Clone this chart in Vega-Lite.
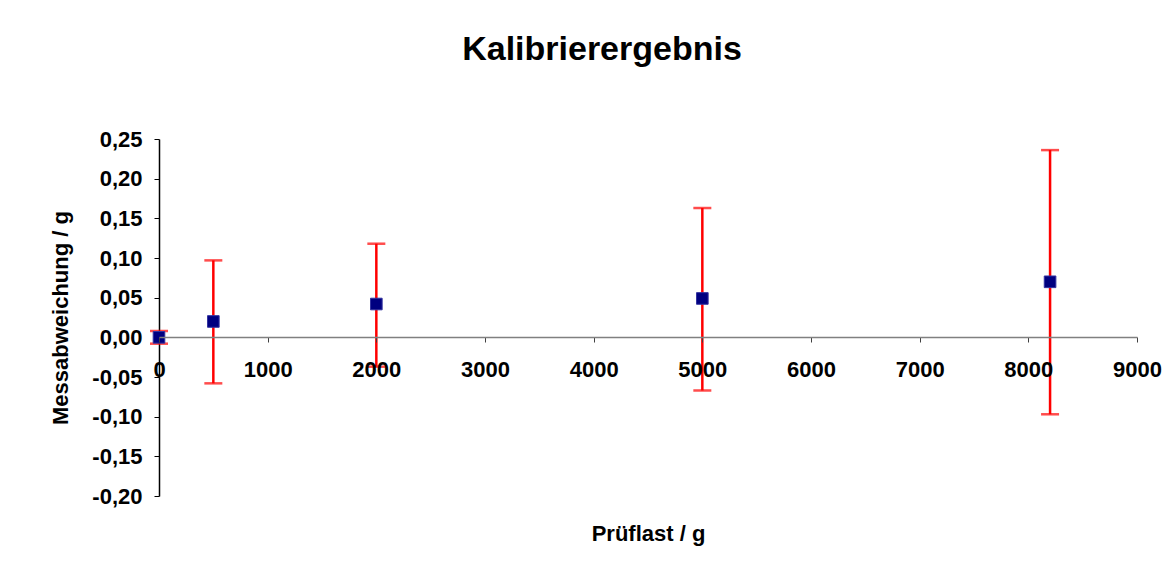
{
  "$schema": "https://vega.github.io/schema/vega-lite/v6.json",
  "autosize": "none",
  "width": 978,
  "height": 357,
  "padding": {"left": 159, "top": 139, "right": 31, "bottom": 89},
  "background": "white",
  "config": {
    "view": {"stroke": null},
    "font": "Liberation Sans"
  },
  "title": {
    "text": "Kalibrierergebnis",
    "font": "Liberation Sans",
    "fontSize": 34,
    "fontWeight": "bold",
    "color": "black",
    "anchor": "middle",
    "frame": "group",
    "dx": -46,
    "offset": 61
  },
  "data": {
    "values": [
      {"last": 0, "abw": 0.0, "lo": -0.008, "hi": 0.008},
      {"last": 500, "abw": 0.02, "lo": -0.058, "hi": 0.097},
      {"last": 2000, "abw": 0.042, "lo": -0.037, "hi": 0.118},
      {"last": 5000, "abw": 0.049, "lo": -0.067, "hi": 0.163},
      {"last": 8200, "abw": 0.07, "lo": -0.097, "hi": 0.236}
    ]
  },
  "encoding": {
    "x": {
      "field": "last",
      "type": "quantitative",
      "scale": {"domain": [0, 9000], "nice": false, "zero": false},
      "axis": {
        "title": "Prüflast / g",
        "orient": "bottom",
        "offset": -159,
        "values": [0, 1000, 2000, 3000, 4000, 5000, 6000, 7000, 8000, 9000],
        "format": "d",
        "grid": false,
        "domainColor": "#808080",
        "domainWidth": 1.5,
        "tickColor": "#404040",
        "tickSize": 5,
        "labelFont": "Liberation Sans",
        "labelFontSize": 22,
        "labelFontWeight": "bold",
        "labelColor": "black",
        "labelPadding": 17,
        "labelFlush": false,
        "labelOverlap": false,
        "titleFont": "Liberation Sans",
        "titleFontSize": 22,
        "titleFontWeight": "bold",
        "titleColor": "black",
        "titlePadding": 143,
        "zindex": 1
      }
    },
    "y": {
      "field": "abw",
      "type": "quantitative",
      "scale": {"domain": [-0.2, 0.25], "nice": false, "zero": false},
      "axis": {
        "title": "Messabweichung / g",
        "values": [-0.2, -0.15, -0.1, -0.05, 0, 0.05, 0.1, 0.15, 0.2, 0.25],
        "labelExpr": "replace(replace(format(datum.value, '.2f'), '.', ','), '−', '-')",
        "grid": false,
        "domainColor": "black",
        "domainWidth": 1.5,
        "tickColor": "black",
        "tickSize": 5,
        "labelFont": "Liberation Sans",
        "labelFontSize": 22,
        "labelFontWeight": "bold",
        "labelColor": "black",
        "labelPadding": 12,
        "labelFlush": false,
        "labelOverlap": false,
        "titleFont": "Liberation Sans",
        "titleFontSize": 22,
        "titleFontWeight": "bold",
        "titleColor": "black",
        "titlePadding": 19
      }
    }
  },
  "layer": [
    {
      "mark": {"type": "rule", "color": "#ff0000", "strokeWidth": 2.5},
      "encoding": {"y": {"field": "lo", "type": "quantitative"}, "y2": {"field": "hi"}}
    },
    {
      "mark": {"type": "tick", "orient": "horizontal", "color": "#ff0000", "size": 18, "thickness": 2.5},
      "encoding": {"y": {"field": "hi", "type": "quantitative"}}
    },
    {
      "mark": {"type": "tick", "orient": "horizontal", "color": "#ff0000", "size": 18, "thickness": 2.5},
      "encoding": {"y": {"field": "lo", "type": "quantitative"}}
    },
    {
      "mark": {"type": "point", "shape": "square", "filled": true, "size": 135, "color": "#000080", "stroke": "#3333a0", "strokeWidth": 1, "opacity": 1}
    }
  ]
}
